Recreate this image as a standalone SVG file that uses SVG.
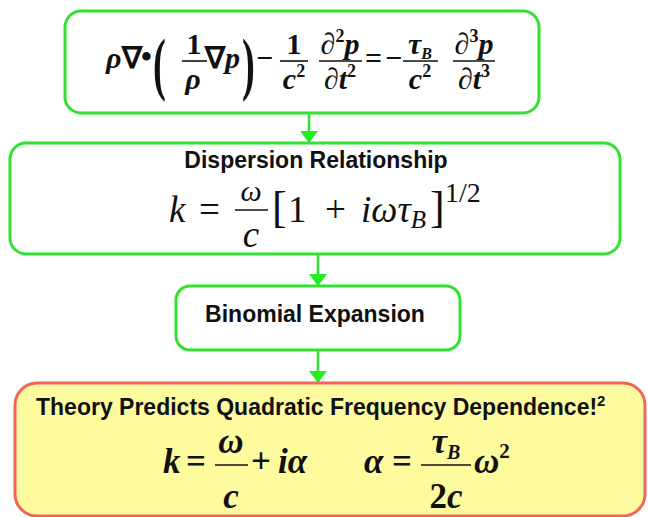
<svg xmlns="http://www.w3.org/2000/svg" width="648" height="517" viewBox="0 0 648 517">
<defs>
<style>
.gbox{fill:#fff;stroke:#33e033;stroke-width:3}
.rbox{fill:#fdfb9e;stroke:#f2645a;stroke-width:3}
.conn{stroke:#33e033;stroke-width:2.5;fill:none}
.lbl{font-family:"Liberation Sans",Arial,sans-serif;font-weight:bold;font-size:23px;fill:#111}
.m{font-family:"Liberation Serif","Times New Roman",serif;fill:#111}
.mb{font-family:"Liberation Serif","Times New Roman",serif;font-weight:bold;fill:#111}
.it{font-style:italic}
.bar{stroke:#111;stroke-width:1.6}
</style>
<marker id="ah" viewBox="0 0 12 18" refX="12" refY="9" markerWidth="12" markerHeight="18" markerUnits="userSpaceOnUse" orient="auto">
<path d="M0,0 L12,9 L0,18 z" fill="#22ee22"/>
</marker>
</defs>

<g id="connectors">
<line class="conn" x1="309" y1="113" x2="309" y2="143" marker-end="url(#ah)"/>
<line class="conn" x1="318" y1="254" x2="318" y2="286" marker-end="url(#ah)"/>
<line class="conn" x1="318" y1="350" x2="318" y2="383" marker-end="url(#ah)"/>
</g>

<g id="wave-equation">
<rect class="gbox" x="65" y="11" width="474" height="102" rx="16"/>
<g class="mb" font-size="30">
<text x="106" y="68" class="it">ρ</text>
<text x="122" y="68">∇</text>
<text x="141" y="67" font-size="31">•</text>
<text transform="translate(153,87) scale(0.55,1)" font-size="70">(</text>
<text x="194" y="54" text-anchor="middle">1</text>
<text x="193" y="89" text-anchor="middle" class="it">ρ</text>
<line class="bar" x1="182" y1="61" x2="207" y2="61"/>
<text x="205" y="68">∇<tspan class="it">p</tspan></text>
<text transform="translate(242,87) scale(0.55,1)" font-size="70">)</text>
<text x="256" y="68">−</text>
<text x="294" y="54" text-anchor="middle">1</text>
<text x="294" y="89" text-anchor="middle"><tspan class="it">c</tspan><tspan font-size="18" dy="-12">2</tspan></text>
<line class="bar" x1="280" y1="61" x2="308" y2="61"/>
<text x="340" y="54" text-anchor="middle"><tspan class="it">∂</tspan><tspan font-size="18" dy="-12">2</tspan><tspan class="it" dy="12">p</tspan></text>
<text x="340" y="89" text-anchor="middle"><tspan class="it">∂t</tspan><tspan font-size="18" dy="-12">2</tspan></text>
<line class="bar" x1="319" y1="61" x2="362" y2="61"/>
<text x="365" y="68">=</text>
<text x="385" y="68">−</text>
<text x="420" y="54" text-anchor="middle"><tspan class="it">τ</tspan><tspan class="it" font-size="16" dy="5">B</tspan></text>
<text x="420" y="89" text-anchor="middle"><tspan class="it">c</tspan><tspan font-size="18" dy="-12">2</tspan></text>
<line class="bar" x1="403" y1="61" x2="438" y2="61"/>
<text x="474" y="54" text-anchor="middle"><tspan class="it">∂</tspan><tspan font-size="18" dy="-12">3</tspan><tspan class="it" dy="12">p</tspan></text>
<text x="474" y="89" text-anchor="middle"><tspan class="it">∂t</tspan><tspan font-size="18" dy="-12">3</tspan></text>
<line class="bar" x1="453" y1="61" x2="495" y2="61"/>
</g>
</g>

<g id="dispersion-relationship">
<rect class="gbox" x="10" y="143" width="610" height="111" rx="16"/>
<text class="lbl" x="316" y="168" text-anchor="middle" font-size="22">Dispersion Relationship</text>
<g class="m" font-size="37">
<text x="169" y="222" class="it">k</text>
<text x="199" y="222">=</text>
<text x="251" y="201" text-anchor="middle" class="it" font-size="30">ω</text>
<text x="251" y="247" text-anchor="middle" class="it">c</text>
<line class="bar" x1="235" y1="210" x2="268" y2="210" stroke-width="1.3"/>
<text x="272" y="222" font-size="44">[</text>
<text x="288" y="222">1</text>
<text x="325" y="222">+</text>
<text x="361" y="222" class="it">iωτ<tspan font-size="25" dy="6">B</tspan></text>
<text x="430" y="222" font-size="44">]</text>
<text x="445" y="202" font-size="28">1/2</text>
</g>
</g>

<g id="binomial-expansion">
<rect class="gbox" x="176" y="286" width="284" height="64" rx="14"/>
<text class="lbl" x="315" y="322" text-anchor="middle">Binomial Expansion</text>
</g>

<g id="prediction">
<rect class="rbox" x="15" y="383" width="630" height="133" rx="22"/>
<text class="lbl" x="36" y="415">Theory Predicts Quadratic Frequency Dependence!<tspan font-size="15" dy="-9">2</tspan></text>
<g class="mb" font-size="35">
<text x="163" y="473" class="it">k</text>
<text x="186" y="473">=</text>
<text x="231" y="453" text-anchor="middle" class="it">ω</text>
<text x="231" y="508" text-anchor="middle" class="it">c</text>
<line class="bar" x1="215" y1="465" x2="248" y2="465" stroke-width="2"/>
<text x="251" y="473">+</text>
<text x="278" y="473" class="it">iα</text>
<text x="364" y="473" class="it">α</text>
<text x="392" y="473">=</text>
<text x="446" y="453" text-anchor="middle"><tspan class="it">τ</tspan><tspan class="it" font-size="20" dy="6">B</tspan></text>
<text x="446" y="508" text-anchor="middle">2<tspan class="it">c</tspan></text>
<line class="bar" x1="421" y1="465" x2="471" y2="465" stroke-width="2"/>
<text x="474" y="473" class="it">ω<tspan font-size="21" dy="-15" font-style="normal">2</tspan></text>
</g>
</g>
</svg>
